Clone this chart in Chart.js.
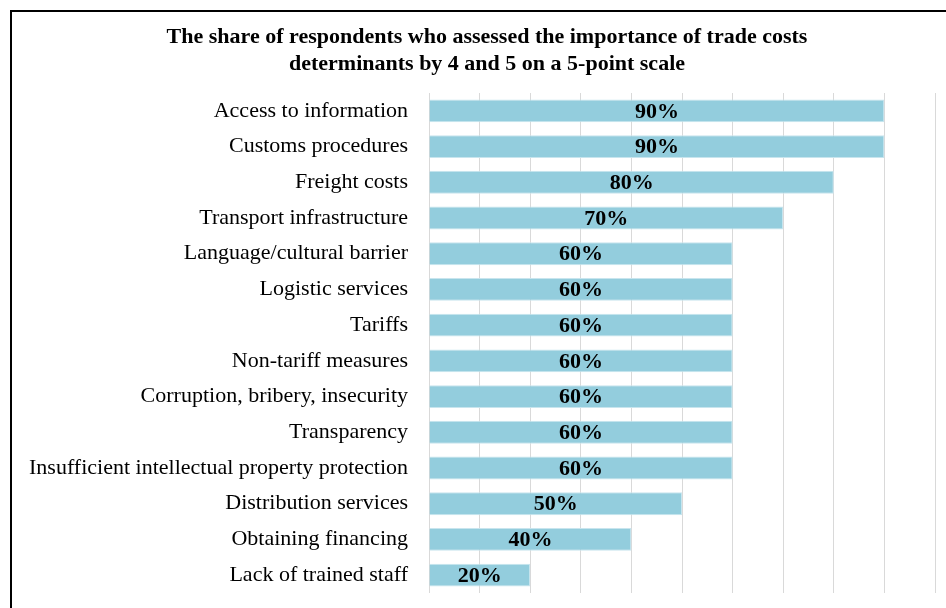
<!DOCTYPE html>
<html>
<head>
<meta charset="utf-8">
<script src="https://cdn.jsdelivr.net/npm/chart.js@4/dist/chart.umd.min.js"></script>
<style>
  html, body { margin: 0; padding: 0; background: #fff; overflow: hidden; }
  #wrap { position: relative; width: 946px; height: 608px; }
  #frame { position: absolute; left: 10px; top: 10px; width: 1000px; height: 700px;
           border: 2px solid #000; box-sizing: border-box; pointer-events: none; }
  canvas { position: absolute; left: 0; top: 0; }
</style>
</head>
<body>
<div id="wrap">
  <canvas id="grafica" width="946" height="608"></canvas>
  <div id="frame"></div>
</div>
<script>
// ── Datos ────────────────────────────────────────────────────────────────────
const categorias = [
    'Access to information',
    'Customs procedures',
    'Freight costs',
    'Transport infrastructure',
    'Language/cultural barrier',
    'Logistic services',
    'Tariffs',
    'Non-tariff measures',
    'Corruption, bribery, insecurity',
    'Transparency',
    'Insufficient intellectual property protection',
    'Distribution services',
    'Obtaining financing',
    'Lack of trained staff'
];
const valores = [90, 90, 80, 70, 60, 60, 60, 60, 60, 60, 60, 50, 40, 20];
const titulo = [
    'The share of respondents who assessed the importance of trade costs',
    'determinants by 4 and 5 on a 5-point scale'
];

const SERIF = '"Liberation Serif", "Times New Roman", serif';

// ── Título centrado sobre el área del gráfico ────────────────────────────────
const tituloPlugin = {
    id: 'tituloPlugin',
    afterDraw(chart) {
        const ctx = chart.ctx;
        ctx.save();
        ctx.font = 'bold 22px ' + SERIF;
        ctx.fillStyle = '#000';
        ctx.textAlign = 'center';
        ctx.textBaseline = 'middle';
        titulo.forEach((linea, i) => ctx.fillText(linea, 487, 37 + i * 27));
        ctx.restore();
    }
};

// ── Etiquetas dentro de las barras ───────────────────────────────────────────
const etiquetasBarras = {
    id: 'etiquetasBarras',
    afterDatasetsDraw(chart) {
        const ctx = chart.ctx;
        const meta = chart.getDatasetMeta(0);
        ctx.save();
        ctx.font = 'bold 22px ' + SERIF;
        ctx.fillStyle = '#000';
        ctx.textAlign = 'center';
        ctx.textBaseline = 'middle';
        meta.data.forEach((bar, i) => {
            const x = (bar.x + bar.base) / 2;
            ctx.fillText(valores[i] + '%', x, bar.y + 1);
        });
        ctx.restore();
    }
};

new Chart(document.getElementById('grafica'), {
    type: 'bar',
    data: {
        labels: categorias,
        datasets: [{
            data: valores,
            backgroundColor: '#93CDDD',
            borderColor: '#C8E5EE',
            borderWidth: 1,
            barPercentage: 0.64,
            categoryPercentage: 1.0
        }]
    },
    options: {
        indexAxis: 'y',
        responsive: false,
        animation: false,
        layout: { padding: { left: 12, right: 11, top: 93, bottom: 0 } },
        plugins: {
            legend: { display: false },
            tooltip: { enabled: false },
            title: { display: false }
        },
        scales: {
            x: {
                min: 0,
                max: 100,
                ticks: { display: false, stepSize: 10 },
                grid: { color: '#D9D9D9', lineWidth: 1, drawTicks: false },
                border: { display: false },
                afterFit: s => { s.height = 15; }
            },
            y: {
                grid: { display: false },
                border: { display: false },
                ticks: {
                    color: '#000',
                    padding: 13,
                    autoSkip: false,
                    font: { family: SERIF, size: 22 }
                },
                afterFit: s => {
                    s.width = 417;
                    s.paddingTop = 0;
                    s.paddingBottom = 0;
                }
            }
        }
    },
    plugins: [etiquetasBarras, tituloPlugin]
});
</script>
</body>
</html>
